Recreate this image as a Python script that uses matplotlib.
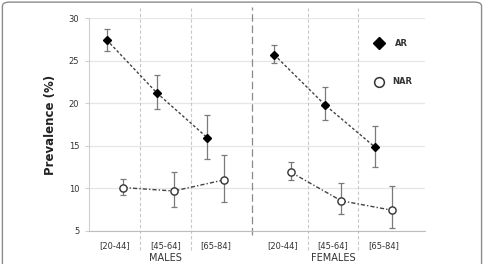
import matplotlib.pyplot as plt
import numpy as np
from matplotlib.patches import FancyBboxPatch

# data
groups = ["[20-44]", "[45-64]", "[65-84]"]
male_ar = [27.45, 21.2, 15.95]
male_ar_lo = [26.1, 19.35, 13.5]
male_ar_hi = [28.7, 23.3, 18.6]
male_nar = [10.1, 9.7, 11.0]
male_nar_lo = [9.2, 7.85, 8.4]
male_nar_hi = [11.1, 11.95, 13.9]
female_ar = [25.7, 19.85, 14.85]
female_ar_lo = [24.7, 18.05, 12.55]
female_ar_hi = [26.8, 21.9, 17.3]
female_nar = [11.9, 8.55, 7.45]
female_nar_lo = [11.05, 7.05, 5.3]
female_nar_hi = [13.05, 10.6, 10.25]

male_x = np.array([0, 1, 2])
female_x = np.array([3.33, 4.33, 5.33])
off = 0.165

fig = plt.figure(figsize=(4.83, 2.64), dpi=100)
ax = fig.add_axes([0.184, 0.125, 0.696, 0.806])

# rounded border round the figure (bottom edge falls outside the image)
fig.patches.append(FancyBboxPatch((0.005, -0.05), 0.992, 1.042,
                                  boxstyle="round,pad=0,rounding_size=0.015",
                                  transform=fig.transFigure, fill=False,
                                  edgecolor="#8c8c8c", linewidth=1.0))

grey = "#444444"
ecol = "#7a7a7a"


def err(v, lo, hi):
    v = np.array(v)
    return [v - np.array(lo), np.array(hi) - v]


for xs, ar, alo, ahi, nar, nlo, nhi in [
        (male_x, male_ar, male_ar_lo, male_ar_hi, male_nar, male_nar_lo, male_nar_hi),
        (female_x, female_ar, female_ar_lo, female_ar_hi, female_nar, female_nar_lo, female_nar_hi)]:
    ax.errorbar(xs - off, ar, yerr=err(ar, alo, ahi), fmt="none", ecolor=ecol,
                elinewidth=0.9, capsize=2.5, capthick=0.9, zorder=3)
    ax.plot(xs - off, ar, color=grey, linestyle=(0, (2, 1.5)), linewidth=1.0,
            marker="D", markersize=3.6, markerfacecolor="black",
            markeredgecolor="black", zorder=4)
    ax.errorbar(xs + off, nar, yerr=err(nar, nlo, nhi), fmt="none", ecolor=ecol,
                elinewidth=0.9, capsize=2.5, capthick=0.9, zorder=3)
    ax.plot(xs + off, nar, color=grey, linestyle=(0, (3, 1.5, 1, 1.5)), linewidth=1.0,
            marker="o", markersize=5.2, markerfacecolor="white",
            markeredgecolor="#333333", markeredgewidth=1.0, zorder=4)

ax.set_xlim(-0.52, 6.16)
ax.set_ylim(5, 30)
ax.set_yticks([5, 10, 15, 20, 25, 30])
ax.yaxis.grid(True, color="#e6e6e6", linewidth=0.9)
ax.set_axisbelow(True)

for s in ["top", "right"]:
    ax.spines[s].set_visible(False)
ax.spines["left"].set_color("#cfcfcf")
ax.spines["bottom"].set_color("#bdbdbd")
ax.tick_params(axis="y", length=3, color="#cfcfcf", labelsize=6, labelcolor="#333333", pad=4)
ax.tick_params(axis="x", length=0, labelsize=6, labelcolor="#333333", pad=7)
ax.set_xticks(np.concatenate([male_x, female_x]))
ax.set_xticklabels(groups + groups)

# separators
for xv in [0.5, 1.5, 3.83, 4.83]:
    ax.axvline(xv, ymin=-0.09, ymax=1.05, color="#c8c8c8", linestyle=(0, (3, 2)),
               linewidth=0.8, clip_on=False, zorder=1)
ax.axvline(2.72, ymin=-0.02, ymax=1.055, color="#8a8a8a", linestyle=(0, (6, 3)),
           linewidth=0.9, clip_on=False, zorder=1)

ax.set_ylabel("Prevalence (%)", fontsize=8.5, fontweight="bold", color="#222222", labelpad=8)
ax.text(1.0, -0.128, "MALES", transform=ax.get_xaxis_transform(), ha="center", va="center",
        fontsize=7, color="#333333")
ax.text(4.33, -0.128, "FEMALES", transform=ax.get_xaxis_transform(), ha="center", va="center",
        fontsize=7, color="#333333")

# legend drawn by hand
ax.plot([5.25], [27.05], marker="D", markersize=6, color="black", linestyle="none", clip_on=False)
ax.text(5.57, 27.05, "AR", fontsize=6, fontweight="bold", color="#333333", va="center")
ax.plot([5.25], [22.5], marker="o", markersize=7, markerfacecolor="white",
        markeredgecolor="#333333", markeredgewidth=1.1, linestyle="none", clip_on=False)
ax.text(5.51, 22.6, "NAR", fontsize=6, fontweight="bold", color="#333333", va="center")

fig.savefig("out.png", dpi=100)
